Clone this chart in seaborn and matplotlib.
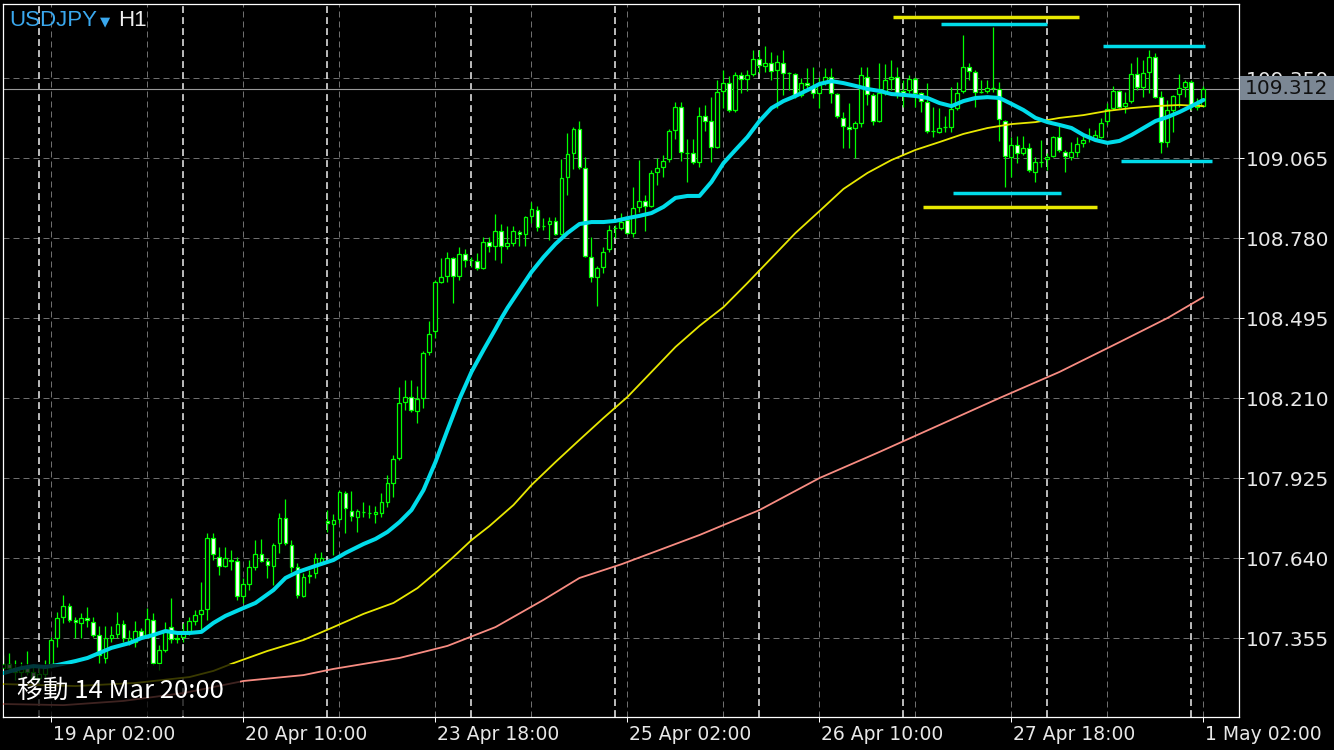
import matplotlib
matplotlib.use("Agg")
import matplotlib.pyplot as plt
import matplotlib.transforms as mtransforms
from matplotlib.patches import Rectangle
import numpy as np
import pandas as pd
import seaborn as sns

# ---------------- data (USDJPY H1 candles) ----------------
opens = [107.248, 107.263, 107.248, 107.234, 107.248, 107.234, 107.213, 107.227, 107.259, 107.355,
         107.430, 107.469, 107.419, 107.409, 107.426, 107.412, 107.366, 107.284, 107.355, 107.369,
         107.405, 107.344, 107.341, 107.380, 107.366, 107.419, 107.266, 107.312, 107.394, 107.355,
         107.359, 107.380, 107.416, 107.441, 107.458, 107.711, 107.644, 107.612, 107.633, 107.629,
         107.505, 107.548, 107.608, 107.654, 107.629, 107.612, 107.694, 107.783, 107.686, 107.608,
         107.505, 107.580, 107.587, 107.626, 107.772, 107.761, 107.779, 107.872, 107.808, 107.786,
         107.804, 107.801, 107.797, 107.801, 107.840, 107.907, 107.996, 108.196, 108.214, 108.164,
         108.210, 108.374, 108.449, 108.623, 108.645, 108.709, 108.645, 108.723, 108.702, 108.698,
         108.673, 108.766, 108.752, 108.805, 108.752, 108.762, 108.802, 108.794, 108.859, 108.880,
         108.823, 108.830, 108.841, 108.794, 108.998, 109.083, 109.168, 109.030, 108.712, 108.641,
         108.677, 108.741, 108.816, 108.816, 108.844, 108.798, 108.891, 108.912, 108.894, 109.015,
         109.033, 109.062, 109.165, 109.247, 109.083, 109.083, 109.051, 109.215, 109.197, 109.104,
         109.304, 109.332, 109.236, 109.361, 109.347, 109.364, 109.418, 109.393, 109.404, 109.379,
         109.404, 109.368, 109.364, 109.290, 109.332, 109.318, 109.297, 109.332, 109.354, 109.293,
         109.208, 109.176, 109.172, 109.190, 109.354, 109.290, 109.197, 109.297, 109.347, 109.354,
         109.304, 109.307, 109.347, 109.297, 109.265, 109.161, 109.158, 109.176, 109.176, 109.243,
         109.304, 109.389, 109.372, 109.300, 109.304, 109.315, 109.311, 109.197, 109.069, 109.111,
         109.083, 109.101, 109.015, 109.051, 109.062, 109.072, 109.140, 109.086, 109.069, 109.086,
         109.119, 109.144, 109.136, 109.140, 109.197, 109.243, 109.304, 109.250, 109.268, 109.364,
         109.318, 109.372, 109.425, 109.282, 109.122, 109.236, 109.293, 109.318, 109.336, 109.247,
         109.250]
highs = [107.295, 107.302, 107.277, 107.270, 107.309, 107.259, 107.248, 107.277, 107.359, 107.448,
         107.508, 107.480, 107.430, 107.444, 107.466, 107.430, 107.398, 107.398, 107.398, 107.448,
         107.419, 107.384, 107.416, 107.391, 107.462, 107.444, 107.330, 107.412, 107.498, 107.373,
         107.409, 107.430, 107.455, 107.555, 107.729, 107.729, 107.679, 107.679, 107.669, 107.644,
         107.569, 107.633, 107.704, 107.708, 107.640, 107.694, 107.801, 107.850, 107.704, 107.622,
         107.587, 107.597, 107.658, 107.662, 107.811, 107.797, 107.882, 107.879, 107.879, 107.815,
         107.840, 107.829, 107.825, 107.872, 107.936, 108.007, 108.249, 108.274, 108.274, 108.253,
         108.378, 108.485, 108.631, 108.709, 108.730, 108.712, 108.748, 108.741, 108.712, 108.727,
         108.784, 108.784, 108.866, 108.830, 108.823, 108.823, 108.809, 108.859, 108.908, 108.894,
         108.851, 108.855, 108.855, 109.062, 109.154, 109.176, 109.197, 109.069, 108.784, 108.680,
         108.748, 108.826, 108.826, 108.869, 108.855, 108.962, 109.058, 108.933, 109.022, 109.065,
         109.076, 109.168, 109.265, 109.265, 109.133, 109.133, 109.247, 109.254, 109.282, 109.343,
         109.379, 109.357, 109.372, 109.372, 109.379, 109.450, 109.450, 109.464, 109.443, 109.432,
         109.450, 109.372, 109.368, 109.350, 109.386, 109.389, 109.354, 109.386, 109.386, 109.297,
         109.229, 109.261, 109.197, 109.389, 109.389, 109.297, 109.404, 109.400, 109.414, 109.389,
         109.343, 109.361, 109.354, 109.300, 109.332, 109.247, 109.243, 109.215, 109.318, 109.336,
         109.503, 109.404, 109.379, 109.343, 109.343, 109.532, 109.336, 109.201, 109.140, 109.144,
         109.144, 109.119, 109.069, 109.129, 109.083, 109.144, 109.183, 109.094, 109.122, 109.140,
         109.147, 109.172, 109.165, 109.208, 109.261, 109.322, 109.307, 109.300, 109.404, 109.425,
         109.414, 109.450, 109.439, 109.304, 109.272, 109.290, 109.364, 109.343, 109.343, 109.279,
         109.322]
lows = [107.220, 107.234, 107.206, 107.213, 107.223, 107.206, 107.198, 107.213, 107.248, 107.323,
        107.409, 107.412, 107.355, 107.355, 107.394, 107.359, 107.266, 107.266, 107.341, 107.355,
        107.341, 107.330, 107.323, 107.355, 107.355, 107.259, 107.241, 107.305, 107.337, 107.337,
        107.341, 107.366, 107.401, 107.384, 107.419, 107.633, 107.580, 107.608, 107.597, 107.491,
        107.480, 107.526, 107.597, 107.626, 107.569, 107.544, 107.658, 107.686, 107.590, 107.498,
        107.501, 107.551, 107.569, 107.622, 107.733, 107.651, 107.765, 107.729, 107.772, 107.733,
        107.786, 107.783, 107.765, 107.786, 107.822, 107.857, 107.989, 108.167, 108.160, 108.121,
        108.175, 108.363, 108.424, 108.620, 108.623, 108.549, 108.631, 108.677, 108.677, 108.666,
        108.670, 108.730, 108.702, 108.691, 108.741, 108.752, 108.752, 108.752, 108.834, 108.805,
        108.809, 108.773, 108.791, 108.791, 108.933, 109.026, 109.026, 108.712, 108.623, 108.538,
        108.655, 108.730, 108.780, 108.809, 108.794, 108.784, 108.873, 108.805, 108.891, 108.969,
        108.998, 109.051, 109.133, 109.054, 108.980, 109.044, 109.033, 109.161, 109.051, 109.101,
        109.243, 109.229, 109.229, 109.297, 109.304, 109.357, 109.368, 109.372, 109.343, 109.243,
        109.290, 109.307, 109.279, 109.282, 109.315, 109.279, 109.243, 109.325, 109.261, 109.208,
        109.101, 109.101, 109.065, 109.176, 109.254, 109.183, 109.193, 109.290, 109.307, 109.279,
        109.247, 109.297, 109.247, 109.229, 109.154, 109.140, 109.154, 109.158, 109.158, 109.236,
        109.297, 109.343, 109.247, 109.297, 109.297, 109.300, 109.126, 108.962, 108.998, 109.047,
        109.076, 109.015, 108.980, 109.033, 109.022, 109.069, 109.086, 109.015, 109.058, 109.069,
        109.104, 109.122, 109.129, 109.136, 109.183, 109.236, 109.243, 109.225, 109.261, 109.307,
        109.282, 109.297, 109.279, 109.083, 109.104, 109.158, 109.247, 109.282, 109.236, 109.236,
        109.247]
closes = [107.263, 107.248, 107.234, 107.248, 107.234, 107.213, 107.227, 107.252, 107.348, 107.426,
          107.469, 107.419, 107.412, 107.426, 107.419, 107.366, 107.295, 107.355, 107.366, 107.405,
          107.355, 107.355, 107.380, 107.359, 107.423, 107.266, 107.312, 107.380, 107.352, 107.352,
          107.380, 107.416, 107.437, 107.455, 107.711, 107.654, 107.612, 107.640, 107.629, 107.505,
          107.548, 107.608, 107.654, 107.629, 107.615, 107.686, 107.783, 107.694, 107.608, 107.508,
          107.573, 107.576, 107.640, 107.640, 107.765, 107.776, 107.875, 107.818, 107.790, 107.808,
          107.804, 107.801, 107.804, 107.840, 107.907, 107.993, 108.192, 108.214, 108.167, 108.207,
          108.371, 108.438, 108.623, 108.641, 108.709, 108.645, 108.723, 108.702, 108.702, 108.673,
          108.766, 108.752, 108.805, 108.752, 108.762, 108.805, 108.794, 108.855, 108.883, 108.819,
          108.823, 108.841, 108.794, 108.994, 109.079, 109.168, 109.033, 108.716, 108.641, 108.673,
          108.730, 108.809, 108.816, 108.837, 108.798, 108.887, 108.912, 108.894, 109.012, 109.030,
          109.054, 109.161, 109.247, 109.086, 109.083, 109.051, 109.215, 109.197, 109.104, 109.300,
          109.332, 109.236, 109.361, 109.347, 109.361, 109.418, 109.396, 109.404, 109.375, 109.407,
          109.368, 109.368, 109.290, 109.332, 109.325, 109.297, 109.325, 109.354, 109.297, 109.215,
          109.179, 109.168, 109.190, 109.361, 109.293, 109.197, 109.297, 109.343, 109.354, 109.297,
          109.297, 109.347, 109.297, 109.268, 109.161, 109.161, 109.172, 109.176, 109.240, 109.297,
          109.389, 109.375, 109.300, 109.300, 109.315, 109.315, 109.204, 109.072, 109.111, 109.083,
          109.101, 109.022, 109.051, 109.051, 109.069, 109.140, 109.094, 109.072, 109.086, 109.115,
          109.129, 109.144, 109.147, 109.190, 109.240, 109.304, 109.247, 109.261, 109.364, 109.318,
          109.368, 109.425, 109.282, 109.122, 109.236, 109.286, 109.315, 109.336, 109.250, 109.258,
          109.312]

# moving averages (sampled along the lines, candle index -> price)
ma_fast_idx = [0, 3, 5, 7, 9, 12, 14, 16, 18, 21, 23, 25, 27, 29, 31, 33, 35, 37, 40, 42,
               45, 47, 49, 52, 55, 57, 60, 62, 64, 66, 68, 70, 72, 74, 76, 78, 80, 82, 83, 84, 86,
               88, 90, 92, 94, 96] + list(range(98, 201, 2))
ma_fast = [107.230, 107.248, 107.255, 107.252, 107.259, 107.273, 107.284, 107.302, 107.320, 107.337,
           107.355, 107.366, 107.380, 107.373, 107.373, 107.377, 107.409, 107.434, 107.462, 107.480,
           107.526, 107.569, 107.590, 107.612, 107.633, 107.658, 107.690, 107.708, 107.733, 107.768,
           107.811, 107.882, 107.982, 108.096, 108.207, 108.303, 108.381, 108.456, 108.495, 108.531,
           108.595, 108.659, 108.712, 108.759, 108.798, 108.830,
           108.837, 108.837, 108.841, 108.851, 108.859, 108.869, 108.891, 108.923, 108.930, 108.930,
           108.980, 109.047, 109.094, 109.140, 109.197, 109.243, 109.268, 109.286, 109.307, 109.329,
           109.339, 109.332, 109.322, 109.311, 109.304, 109.293, 109.290, 109.286, 109.279, 109.261,
           109.250, 109.268, 109.279, 109.282, 109.279, 109.258, 109.236, 109.208, 109.193, 109.183,
           109.172, 109.147, 109.129, 109.119, 109.126, 109.147, 109.172, 109.197, 109.211, 109.229,
           109.250, 109.272]
ma_mid_idx = [0, 12, 22, 31, 35, 38, 44, 50, 55, 60, 65, 69, 72, 75, 78, 81, 85, 88, 92, 96] + list(range(100, 201, 4))
ma_mid = [107.191, 107.184, 107.195, 107.216, 107.238, 107.263, 107.309, 107.348, 107.394, 107.441,
          107.480, 107.533, 107.587, 107.644, 107.704, 107.754, 107.829, 107.900, 107.982, 108.061,
          108.139, 108.214, 108.303, 108.392, 108.467, 108.534, 108.620, 108.709, 108.798, 108.876,
          108.955, 109.012, 109.058, 109.094, 109.122, 109.151, 109.172, 109.186, 109.193, 109.208,
          109.218, 109.233, 109.243, 109.250, 109.254, 109.250]
ma_slow_idx = [0, 10, 20, 30, 40, 50, 55, 66, 74, 82, 90, 96, 103, 116, 126, 136, 146, 156, 166, 176, 186, 194, 200]
ma_slow = [107.120, 107.116, 107.131, 107.159, 107.202, 107.223, 107.245, 107.284, 107.327, 107.394,
           107.491, 107.569, 107.618, 107.722, 107.811, 107.925, 108.018, 108.114, 108.210, 108.303,
           108.409, 108.495, 108.570]

# drawn horizontal levels (start candle, end candle, price)
level_start = [148.2, 156.2, 183.2, 186.2, 158.2, 153.2]
level_end = [179.2, 174.0, 200.2, 201.5, 176.2, 182.2]
level_price = [109.566, 109.544, 109.464, 109.054, 108.939, 108.889]
level_kind = ["yellow", "cyan", "cyan", "cyan", "cyan", "yellow"]

tick_idx = [8, 40, 72, 104, 136, 168, 200]
tick_labels = ["19 Apr 02:00", "20 Apr 10:00", "23 Apr 18:00", "25 Apr 02:00",
               "26 Apr 10:00", "27 Apr 18:00", "1 May 02:00"]
minor_idx = [24, 56, 88, 120, 152, 184]
day_idx = [6, 30, 54, 78, 102, 126, 150, 174, 198]
price_ticks = [107.355, 107.640, 107.925, 108.210, 108.495, 108.780, 109.065, 109.350]
last_price = 109.312
symbol = "USDJPY"
timeframe = "H1"
overlay_text = "移動 14 Mar 20:00"

# ---------------- styling ----------------
GREEN = "#00ff00"
CYAN = "#00dcea"
YELLOW = "#e8e800"
SALMON = "#f88c82"
level_colors = {"yellow": YELLOW, "cyan": CYAN}

sns.set_theme(style="dark", rc={"axes.facecolor": "black", "figure.facecolor": "black",
                                "axes.grid": False})
plt.rcParams["font.family"] = ["DejaVu Sans"]

W, H = 1334, 750
fig = plt.figure(figsize=(W / 100, H / 100), dpi=100, facecolor="black")
ax = fig.add_axes([3 / W, (H - 717) / H, (1239 - 3) / W, (717 - 4) / H])
ax.set_facecolor("black")

idx = np.arange(len(opens))
o = np.array(opens); hi = np.array(highs); lo = np.array(lows); c = np.array(closes)
bull = c >= o
face = np.where(bull, "black", "white")
bottom = np.minimum(o, c)
height = np.maximum(np.abs(c - o), 0.0006)

# grid
for p in price_ticks:
    ax.axhline(p, color="#6e6e6e", lw=0.72, ls=(0, (6, 4)), zorder=1)
for k in tick_idx + minor_idx:
    ax.axvline(k, color="#6e6e6e", lw=0.72, ls=(0, (6, 4)), zorder=1)
for k in day_idx:
    ax.axvline(k, color="#f0f0f0", lw=1.1, ls=(0, (4.5, 2.7)), zorder=1)
ax.axhline(last_price, color="#9a9a9a", lw=0.8, zorder=1.5)

# candles
ax.vlines(idx, lo, hi, color=GREEN, lw=0.9, zorder=2)
ax.bar(idx, height, bottom=bottom, width=0.66, color=face, edgecolor=GREEN,
       linewidth=0.9, zorder=3)

# moving averages
sns.lineplot(data=pd.DataFrame({"i": ma_slow_idx, "p": ma_slow}), x="i", y="p", ax=ax,
             color=SALMON, linewidth=1.3, zorder=4)
sns.lineplot(data=pd.DataFrame({"i": ma_mid_idx, "p": ma_mid}), x="i", y="p", ax=ax,
             color=YELLOW, linewidth=1.3, zorder=4)
sns.lineplot(data=pd.DataFrame({"i": ma_fast_idx, "p": ma_fast}), x="i", y="p", ax=ax,
             color=CYAN, linewidth=2.9, zorder=4.5)

# levels
for s, e, p, kind in zip(level_start, level_end, level_price, level_kind):
    ax.hlines(p, s, e, color=level_colors[kind], lw=2.5, zorder=5)

ax.set_xlim(-0.08, 205.92)
ax.set_ylim(107.0737, 109.6138)
ax.set_xlabel("")
ax.set_ylabel("")

ax.set_xticks(tick_idx)
ax.set_xticklabels(tick_labels)
ax.yaxis.tick_right()
ax.set_yticks(price_ticks)
ax.set_yticklabels([f"{p:.3f}" for p in price_ticks])
ax.tick_params(axis="x", bottom=True, top=False, length=3.6, width=0.72, color="white",
               direction="out", pad=2.0, labelsize=13.5, labelcolor="#e8e8e8")
ax.tick_params(axis="y", right=True, left=False, length=3.6, width=0.72, color="white",
               direction="out", pad=1.0, labelsize=14.5, labelcolor="#e8e8e8")
offset = mtransforms.ScaledTranslation(2 / 100, 0, fig.dpi_scale_trans)
for lbl in ax.get_xticklabels():
    lbl.set_horizontalalignment("left")
    lbl.set_transform(lbl.get_transform() + offset)
for sp in ax.spines.values():
    sp.set_color("white")
    sp.set_linewidth(0.9)
    sp.set_visible(True)

# title
fig.text(9 / W, 1 - 21 / H, symbol, color="#3aa8ee", fontsize=16, va="center", ha="left",
         family=["Liberation Sans", "DejaVu Sans"])
fig.text(100 / W, 1 - 22 / H, "▼", color="#3aa8ee", fontsize=9.5, va="center", ha="left",
         family=["DejaVu Sans"])
fig.text(118 / W, 1 - 21 / H, timeframe, color="#f0f0f0", fontsize=16, va="center", ha="left",
         family=["Liberation Sans", "DejaVu Sans"])

# overlay label box (bottom-left)
fig.add_artist(Rectangle((4 / W, (H - 716) / H), 236 / W, 52 / H, transform=fig.transFigure,
                         facecolor="black", edgecolor="none", alpha=0.75, zorder=5))
fig.text(17 / W, 1 - 692 / H, overlay_text, color="white", fontsize=18.5, va="center", ha="left",
         family=["Noto Sans CJK JP", "DejaVu Sans"], zorder=6)

# last price box
fig.add_artist(Rectangle((1240 / W, (H - 100) / H), 94 / W, 24 / H, transform=fig.transFigure,
                         facecolor="#7b8794", edgecolor="none", zorder=5))
fig.text(1245 / W, 1 - 88 / H, f"{last_price:.3f}", color="#111111", fontsize=14.5,
         va="center", ha="left", zorder=6)

fig.savefig("out.png", dpi=100, facecolor="black")
